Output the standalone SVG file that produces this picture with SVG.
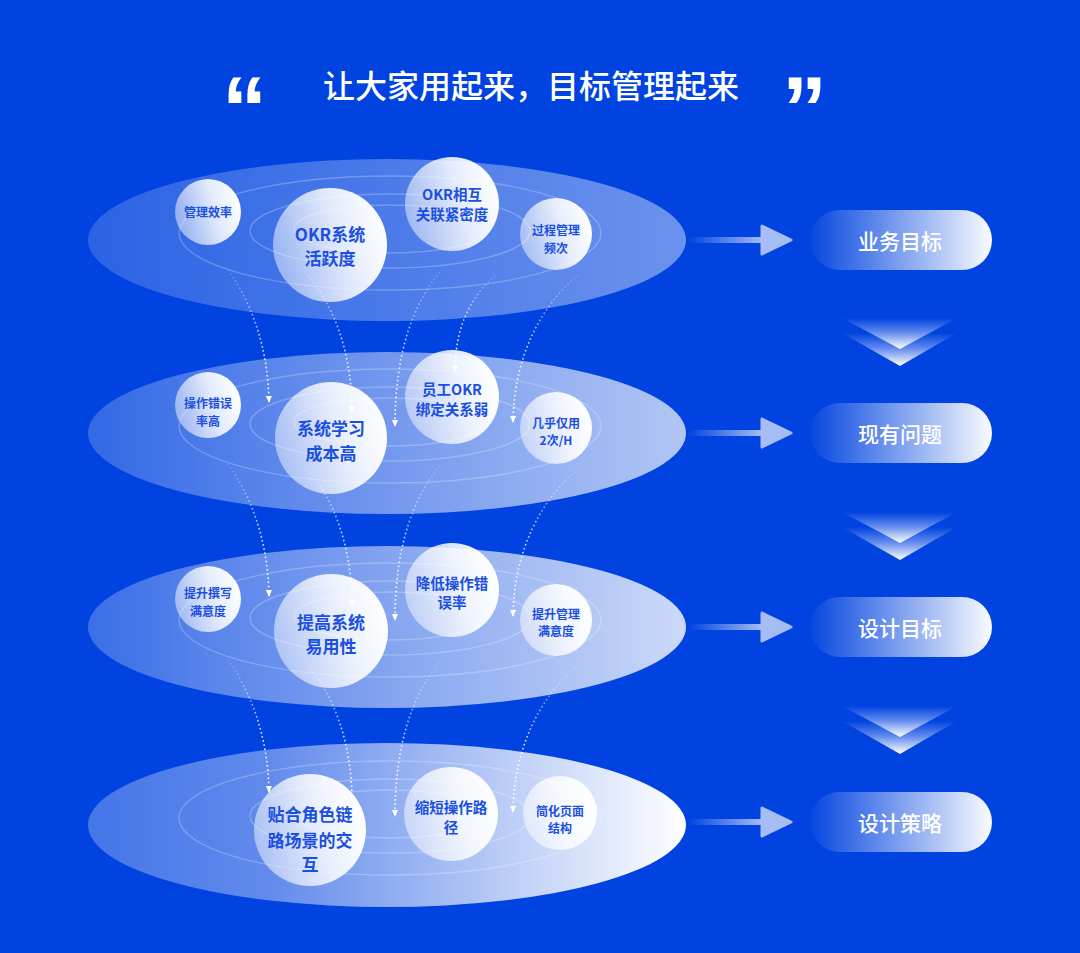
<svg xmlns="http://www.w3.org/2000/svg" width="1080" height="953" viewBox="0 0 1080 953">
<defs>
  <linearGradient id="gL1" x1="0" y1="0" x2="1" y2="0"><stop offset="0" stop-color="#fff" stop-opacity="0.17"/><stop offset="1" stop-color="#fff" stop-opacity="0.42"/></linearGradient>
  <linearGradient id="gL2" x1="0" y1="0" x2="1" y2="0"><stop offset="0" stop-color="#fff" stop-opacity="0.2"/><stop offset="1" stop-color="#fff" stop-opacity="0.7"/></linearGradient>
  <linearGradient id="gL3" x1="0" y1="0" x2="1" y2="0"><stop offset="0" stop-color="#fff" stop-opacity="0.23"/><stop offset="1" stop-color="#fff" stop-opacity="0.8"/></linearGradient>
  <linearGradient id="gL4" x1="0" y1="0" x2="1" y2="0"><stop offset="0" stop-color="#fff" stop-opacity="0.27"/><stop offset="0.3" stop-color="#fff" stop-opacity="0.38"/><stop offset="1" stop-color="#fff" stop-opacity="1"/></linearGradient>
  <linearGradient id="gCirc" x1="0" y1="0.65" x2="1" y2="0.35"><stop offset="0" stop-color="#fff" stop-opacity="0.45"/><stop offset="0.6" stop-color="#fff" stop-opacity="0.85"/><stop offset="1" stop-color="#fff" stop-opacity="1"/></linearGradient>
  <linearGradient id="gPill" x1="0" y1="0" x2="1" y2="0"><stop offset="0" stop-color="#fff" stop-opacity="0.02"/><stop offset="1" stop-color="#fff" stop-opacity="0.98"/></linearGradient>
  <linearGradient id="gBar" x1="0" y1="0" x2="1" y2="0"><stop offset="0" stop-color="#fff" stop-opacity="0"/><stop offset="1" stop-color="#fff" stop-opacity="0.65"/></linearGradient>
  <linearGradient id="gChev" x1="0" y1="0" x2="0" y2="1"><stop offset="0" stop-color="#0043E0"/><stop offset="0.45" stop-color="#5e88ee"/><stop offset="1" stop-color="#ffffff"/></linearGradient>
  <linearGradient id="gConn" x1="0" y1="0" x2="0" y2="1"><stop offset="0" stop-color="#fff" stop-opacity="0.15"/><stop offset="0.45" stop-color="#fff" stop-opacity="0.75"/><stop offset="1" stop-color="#fff" stop-opacity="1"/></linearGradient>
  <marker id="ah" viewBox="0 0 7 6" refX="6" refY="3" markerWidth="7" markerHeight="6" markerUnits="userSpaceOnUse" orient="auto">
    <path d="M0,0 L7,3 L0,6 z" fill="#fff"/>
  </marker>
  <style>
    .cn{font-family:"Noto Sans CJK SC","Noto Sans",sans-serif;fill:#1a4fe2;font-weight:600;text-anchor:middle;dominant-baseline:central}
    .lg{font-size:17px}
    .md{font-size:14.5px}
    .sm{font-size:12px}
    .circ{fill:url(#gCirc)}
    .ring{fill:none;stroke:#fff;stroke-opacity:0.24;stroke-width:1.4}
    .conn{fill:none;stroke:url(#gConn);stroke-width:1.6;stroke-dasharray:1.6 2.6;marker-end:url(#ah)}
    .pill rect{fill:url(#gPill)}
    .pill text{font-family:"Noto Sans CJK SC","Noto Sans",sans-serif;fill:#fff;font-size:21px;font-weight:500;text-anchor:middle;dominant-baseline:central}
    .bar{fill:url(#gBar)}
    .head{fill:#a6bdf4;stroke:#a6bdf4;stroke-width:3;stroke-linejoin:round}
    .chev{fill:url(#gChev)}
    .q{font-family:"Liberation Sans",Arial,sans-serif;font-weight:bold;font-size:90px;fill:#fff}
  </style>
</defs>

<rect width="1080" height="953" fill="#0043E0"/>

<g id="title">
  <text class="q" x="222" y="140">“</text>
  <text x="531" y="98" font-family="Noto Sans CJK SC, Noto Sans, sans-serif" font-size="32" font-weight="500" fill="#fff" text-anchor="middle">让大家用起来，目标管理起来</text>
  <text class="q" x="782" y="140">”</text>
</g>

<!-- Layer 1 -->
<g id="layer1">
  <ellipse cx="387" cy="240" rx="299" ry="81" fill="url(#gL1)"/>
  <ellipse class="ring" cx="390" cy="233" rx="211" ry="57"/>
  <ellipse class="ring" cx="390" cy="231" rx="140" ry="37"/>
  <ellipse class="ring" cx="390" cy="229" rx="96" ry="24"/>
</g>
<g id="n-guanlixiaolv"><circle class="circ" cx="208" cy="212" r="33"/><text class="cn sm" x="208" y="211">管理效率</text></g>
<g id="n-okr-huoyuedu"><circle class="circ" cx="330" cy="245" r="57"/><text class="cn lg" x="330" y="233">OKR系统</text><text class="cn lg" x="330" y="257">活跃度</text></g>
<g id="n-okr-guanlian"><circle class="circ" cx="452" cy="204" r="47"/><text class="cn md" x="452" y="193">OKR相互</text><text class="cn md" x="452" y="213">关联紧密度</text></g>
<g id="n-guocheng"><circle class="circ" cx="556" cy="234" r="36"/><text class="cn sm" x="556" y="229">过程管理</text><text class="cn sm" x="556" y="247">频次</text></g>

<!-- Layer 2 -->
<g id="layer2">
  <ellipse cx="387" cy="433" rx="299" ry="81" fill="url(#gL2)"/>
  <ellipse class="ring" cx="390" cy="426" rx="211" ry="57"/>
  <ellipse class="ring" cx="390" cy="424" rx="140" ry="37"/>
  <ellipse class="ring" cx="390" cy="422" rx="96" ry="24"/>
</g>
<g id="n-caozuocuowu"><circle class="circ" cx="208" cy="405" r="33"/><text class="cn sm" x="208" y="402">操作错误</text><text class="cn sm" x="208" y="420">率高</text></g>
<g id="n-xuexichengben"><circle class="circ" cx="331" cy="438" r="56"/><text class="cn lg" x="331" y="427">系统学习</text><text class="cn lg" x="331" y="452">成本高</text></g>
<g id="n-bangding"><circle class="circ" cx="452" cy="397" r="47"/><text class="cn md" x="452" y="388">员工OKR</text><text class="cn md" x="452" y="408">绑定关系弱</text></g>
<g id="n-jihu"><circle class="circ" cx="556" cy="428" r="36"/><text class="cn sm" x="556" y="422">几乎仅用</text><text class="cn sm" x="556" y="439">2次/H</text></g>

<!-- Layer 3 -->
<g id="layer3">
  <ellipse cx="387" cy="627" rx="299" ry="81" fill="url(#gL3)"/>
  <ellipse class="ring" cx="390" cy="620" rx="211" ry="57"/>
  <ellipse class="ring" cx="390" cy="618" rx="140" ry="37"/>
  <ellipse class="ring" cx="390" cy="616" rx="96" ry="24"/>
</g>
<g id="n-zhuanxie"><circle class="circ" cx="208" cy="599" r="33"/><text class="cn sm" x="208" y="592">提升撰写</text><text class="cn sm" x="208" y="610">满意度</text></g>
<g id="n-yiyongxing"><circle class="circ" cx="331" cy="631" r="57"/><text class="cn lg" x="331" y="621">提高系统</text><text class="cn lg" x="331" y="645">易用性</text></g>
<g id="n-jiangdi"><circle class="circ" cx="452" cy="590" r="47"/><text class="cn md" x="452" y="582">降低操作错</text><text class="cn md" x="452" y="601">误率</text></g>
<g id="n-guanlimanyi"><circle class="circ" cx="556" cy="620" r="36"/><text class="cn sm" x="556" y="613">提升管理</text><text class="cn sm" x="556" y="630">满意度</text></g>

<!-- Layer 4 -->
<g id="layer4">
  <ellipse cx="387" cy="825" rx="299" ry="82" fill="url(#gL4)"/>
  <ellipse class="ring" cx="390" cy="818" rx="211" ry="57"/>
  <ellipse class="ring" cx="390" cy="816" rx="140" ry="37"/>
  <ellipse class="ring" cx="390" cy="814" rx="96" ry="24"/>
</g>
<g id="n-tiehe"><circle class="circ" cx="310" cy="830" r="56"/><text class="cn lg" x="310" y="813">贴合角色链</text><text class="cn lg" x="310" y="839">路场景的交</text><text class="cn lg" x="310" y="863">互</text></g>
<g id="n-suoduan"><circle class="circ" cx="451" cy="814" r="47"/><text class="cn md" x="451" y="806">缩短操作路</text><text class="cn md" x="451" y="826">径</text></g>
<g id="n-jianhua"><circle class="circ" cx="560" cy="813" r="37"/><text class="cn sm" x="560" y="810">简化页面</text><text class="cn sm" x="560" y="827">结构</text></g>

<!-- Connectors -->
<g id="connectors">
  <path class="conn" d="M228,270 C250,300 268,345 269,402"/>
  <path class="conn" d="M305,272 C335,305 352,355 352,412"/>
  <path class="conn" d="M440,272 C412,305 395,355 395,426"/>
  <path class="conn" d="M495,275 C468,300 455,330 455,372"/>
  <path class="conn" d="M578,275 C542,305 514,355 513,422"/>

  <path class="conn" d="M228,464 C250,494 268,539 269,596"/>
  <path class="conn" d="M305,466 C335,499 352,549 352,606"/>
  <path class="conn" d="M440,466 C412,499 395,549 395,620"/>
  <path class="conn" d="M578,469 C542,499 514,549 513,616"/>

  <path class="conn" d="M228,660 C250,690 268,735 269,792"/>
  <path class="conn" d="M305,662 C335,695 352,745 352,802"/>
  <path class="conn" d="M440,662 C412,695 395,745 395,816"/>
  <path class="conn" d="M578,665 C542,695 514,745 513,812"/>

  <rect class="bar" x="688" y="237" width="74" height="6"/>
  <path class="head" d="M762,226 L791,240 L762,254 z"/>
  <rect class="bar" x="688" y="430" width="74" height="6"/>
  <path class="head" d="M762,419 L791,433 L762,447 z"/>
  <rect class="bar" x="688" y="624" width="74" height="6"/>
  <path class="head" d="M762,613 L791,627 L762,641 z"/>
  <rect class="bar" x="688" y="819" width="74" height="6"/>
  <path class="head" d="M762,808 L791,822 L762,836 z"/>

  <path class="chev" d="M842,333 L957,333 L900,366 z"/>
  <path class="chev" d="M842,318 L957,318 L900,349 z"/>
  <path class="chev" d="M842,527 L957,527 L900,560 z"/>
  <path class="chev" d="M842,512 L957,512 L900,543 z"/>
  <path class="chev" d="M842,721 L957,721 L900,754 z"/>
  <path class="chev" d="M842,706 L957,706 L900,737 z"/>
</g>

<!-- Pills -->
<g id="p-yewu" class="pill"><rect x="810" y="210" width="182" height="60" rx="30"/><text x="900" y="240">业务目标</text></g>
<g id="p-xianyou" class="pill"><rect x="810" y="403" width="182" height="60" rx="30"/><text x="900" y="433">现有问题</text></g>
<g id="p-sheji" class="pill"><rect x="810" y="597" width="182" height="60" rx="30"/><text x="900" y="627">设计目标</text></g>
<g id="p-celue" class="pill"><rect x="810" y="792" width="182" height="60" rx="30"/><text x="900" y="822">设计策略</text></g>
</svg>
